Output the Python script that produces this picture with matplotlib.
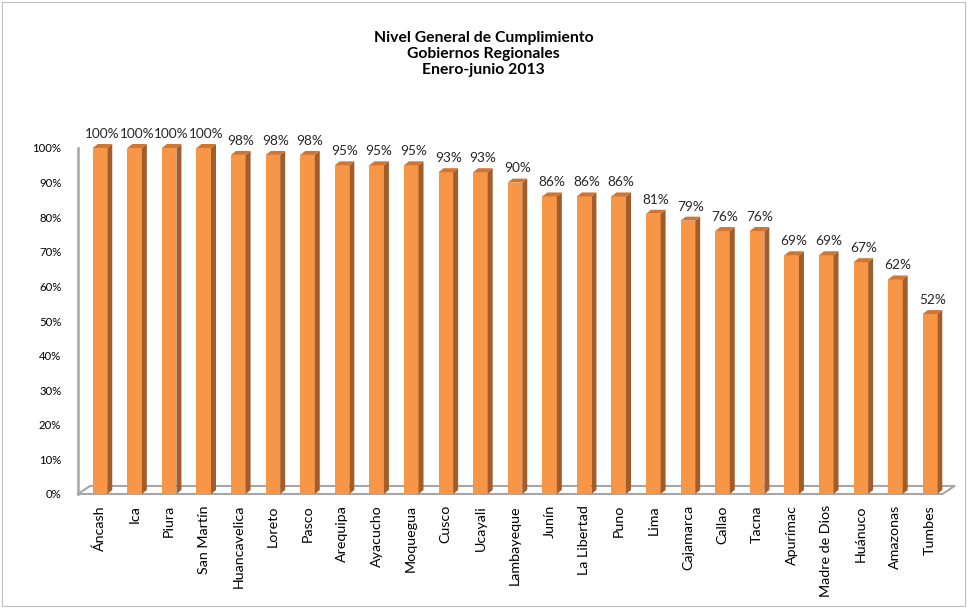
import matplotlib

matplotlib.use("Agg")

import matplotlib.pyplot as plt
from matplotlib.patches import Polygon, Rectangle

regions = [
    "Áncash", "Ica", "Piura", "San Martín", "Huancavelica", "Loreto", "Pasco",
    "Arequipa", "Ayacucho", "Moquegua", "Cusco", "Ucayali", "Lambayeque",
    "Junín", "La Libertad", "Puno", "Lima", "Cajamarca", "Callao", "Tacna",
    "Apurímac", "Madre de Dios", "Huánuco", "Amazonas", "Tumbes",
]
cumplimiento = [100, 100, 100, 100, 98, 98, 98, 95, 95, 95, 93, 93, 90,
                86, 86, 86, 81, 79, 76, 76, 69, 69, 67, 62, 52]
y_ticks = [0, 10, 20, 30, 40, 50, 60, 70, 80, 90, 100]

FRONT = "#F79646"
SIDE = "#A35D2B"
TOP = "#CF7634"
GREY = "#A6A6A6"

plt.rcParams["font.family"] = ["Lato", "DejaVu Sans"]

W, H = 967, 608
fig = plt.figure(figsize=(W / 100, H / 100), dpi=100)
fig.patches.append(Rectangle((2 / W, 2 / H), 1 - 4 / W, 1 - 4 / H,
                             transform=fig.transFigure, fill=False,
                             edgecolor="#BFBFBF", linewidth=0.8))

# axes box in pixels: x from 78 to 957, 0% at y=494, 100% at y=148
ax = fig.add_axes([78 / W, (H - 494) / H, (957 - 78) / W, 346 / H])
px = 34.6  # pixels per category
ax.set_xlim(-22 / px, len(regions) - 1 + 27 / px)
ax.set_ylim(0, 100)
for s in ax.spines.values():
    s.set_visible(False)

width = 0.42
dx = 5 / px
dy = 4 / 3.46
xs = range(len(regions))

# floor
fx = 12 / px
fy = 8 / 3.46
x0, x1 = -22 / px, (943 - 100) / px
ax.plot([x0, x1, x1 + fx, x0 + fx, x0], [0, 0, fy, fy, 0], color=GREY,
        lw=1.5, clip_on=False, zorder=1)
ax.plot([x0, x0], [0, 100], color=GREY, lw=1.8, clip_on=False, zorder=1)

ax.bar(xs, cumplimiento, width=width, color=FRONT, edgecolor="none", zorder=3)
for x, v in zip(xs, cumplimiento):
    r = x + width / 2
    l = x - width / 2
    ax.add_patch(Polygon([(r, 0), (r + dx, dy), (r + dx, v + dy), (r, v)],
                         closed=True, facecolor=SIDE, edgecolor="none",
                         zorder=3, clip_on=False))
    ax.add_patch(Polygon([(l, v), (r, v), (r + dx, v + dy), (l + dx, v + dy)],
                         closed=True, facecolor=TOP, edgecolor="none",
                         zorder=3, clip_on=False))
    ax.text(x + dx / 2, v + dy + 1.2, f"{v}%", ha="center", va="bottom",
            fontsize=9.8, color="#262626", clip_on=False)

ax.set_yticks(y_ticks)
ax.set_yticklabels([f"{t}%" for t in y_ticks], fontsize=8.2)
ax.set_xticks(list(xs))
ax.set_xticklabels(regions, rotation=90, fontsize=10.3)
ax.tick_params(axis="both", length=0)
ax.tick_params(axis="y", pad=12)
ax.tick_params(axis="x", pad=8)

fig.text(0.5, 1 - 54 / H, "Nivel General de Cumplimiento\nGobiernos Regionales\nEnero-junio 2013",
         ha="center", va="center", fontsize=11.3, fontweight="bold",
         linespacing=1.2)

fig.savefig("out.png", dpi=100)
